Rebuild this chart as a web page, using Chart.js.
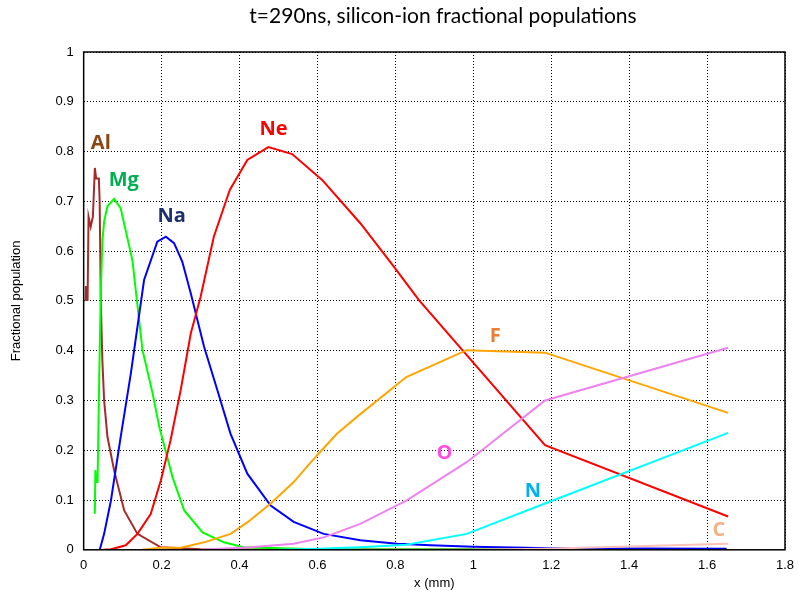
<!DOCTYPE html>
<html>
<head>
<meta charset="utf-8">
<script src="https://cdn.jsdelivr.net/npm/chart.js@4.4.0/dist/chart.umd.min.js"></script>
<style>
html,body{margin:0;padding:0;background:#fff;}
#wrap{position:relative;width:798px;height:603px;}
</style>
</head>
<body>
<div id="wrap"><canvas id="c" width="798" height="603"></canvas></div>
<script>
// ---- data (x in mm, fractional population) ----
const alData = [[0.005,0.50],[0.006,0.53],[0.010,0.50],[0.0125,0.669],[0.018,0.649],[0.0236,0.669],[0.0287,0.767],[0.032,0.746],[0.039,0.746],[0.041,0.70],[0.044,0.50],[0.048,0.38],[0.0525,0.30],[0.061,0.227],[0.078,0.16],[0.104,0.079],[0.138,0.032],[0.198,0.005],[0.3,0.001],[1.65,0.0]];
const mgData = [[0.0287,0.0725],[0.0300,0.16],[0.0313,0.16],[0.0320,0.136],[0.0356,0.136],[0.040,0.35],[0.044,0.52],[0.048,0.62],[0.0526,0.66],[0.061,0.69],[0.078,0.705],[0.095,0.686],[0.125,0.582],[0.151,0.401],[0.177,0.314],[0.194,0.247],[0.228,0.146],[0.258,0.079],[0.305,0.035],[0.36,0.015],[0.41,0.005],[0.6,0.001],[1.65,0.0]];
const naData = [[0.040,0.0],[0.042,0.002],[0.0525,0.032],[0.07,0.099],[0.095,0.227],[0.121,0.354],[0.155,0.542],[0.189,0.619],[0.211,0.629],[0.232,0.616],[0.253,0.579],[0.275,0.515],[0.309,0.408],[0.343,0.321],[0.377,0.233],[0.42,0.153],[0.48,0.089],[0.539,0.056],[0.616,0.032],[0.71,0.019],[0.804,0.012],[0.89,0.009],[1.0,0.006],[1.2,0.003],[1.65,0.002]];
const neData = [[0.05,0.0],[0.07,0.001],[0.108,0.009],[0.138,0.032],[0.172,0.072],[0.198,0.139],[0.223,0.22],[0.249,0.321],[0.275,0.435],[0.3,0.508],[0.334,0.629],[0.375,0.723],[0.42,0.783],[0.474,0.809],[0.535,0.795],[0.612,0.743],[0.71,0.656],[0.796,0.569],[0.86,0.502],[1.184,0.21],[1.654,0.067]];
const fData = [[0.15,0.0],[0.198,0.004],[0.25,0.004],[0.309,0.015],[0.377,0.032],[0.42,0.055],[0.48,0.093],[0.539,0.136],[0.599,0.19],[0.65,0.233],[0.706,0.27],[0.828,0.347],[0.983,0.401],[1.184,0.396],[1.654,0.275]];
const oData = [[0.3,0.0],[0.428,0.005],[0.539,0.012],[0.616,0.025],[0.71,0.052],[0.828,0.099],[0.983,0.176],[1.184,0.3],[1.654,0.406]];
const nData = [[0.5,0.0],[0.6,0.002],[0.71,0.005],[0.828,0.01],[0.983,0.032],[1.184,0.093],[1.654,0.235]];
const cData = [[1.0,0.0],[1.184,0.002],[1.654,0.012]];

const seriesNames = ['Al','Mg','Na','Ne','F','O','N','C'];
const labelX = [0.044,0.103,0.226,0.487,1.056,0.926,1.153,1.630];
const labelY = [0.817,0.743,0.669,0.844,0.429,0.194,0.117,0.039];

const xTicks = ['0','0.2','0.4','0.6','0.8','1','1.2','1.4','1.6','1.8'];
const yTicks = ['0','0.1','0.2','0.3','0.4','0.5','0.6','0.7','0.8','0.9','1'];
const titleText = 't=290ns, silicon-ion fractional populations';

// ---- styles ----
const lineColors = ['#A52A2A','#00FF00','#0000FF','#FF0000','#FFA500','#EE82EE','#00FFFF','#FFC0B8'];
const labelColors = ['#8B4513','#00B050','#1F2F6F','#FF0000','#ED7D31','#FF4FE0','#00B0F0','#F4B183'];

const allData = [alData,mgData,naData,neData,fData,oData,nData,cData];
const drawOrder = [7,6,5,4,3,2,1,0];
const datasets = drawOrder.map(i => ({
  label: seriesNames[i],
  data: allData[i].map(p => ({x:p[0], y:p[1]})),
  borderColor: lineColors[i],
  backgroundColor: lineColors[i],
  borderWidth: 2,
  pointRadius: 0,
  tension: 0,
  fill: false
}));

const labelPlugin = {
  id: 'labels',
  afterDatasetsDraw(chart) {
    const ctx = chart.ctx, xs = chart.scales.x, ys = chart.scales.y;
    ctx.save();
    ctx.font = 'bold 20px "Open Sans", sans-serif';
    ctx.textAlign = 'center';
    ctx.textBaseline = 'middle';
    seriesNames.forEach((n, i) => {
      ctx.fillStyle = labelColors[i];
      ctx.fillText(n, xs.getPixelForValue(labelX[i]), ys.getPixelForValue(labelY[i]));
    });
    ctx.restore();
  }
};

const framePlugin = {
  id: 'frame',
  afterDraw(chart) {
    const {left, right, top, bottom} = chart.chartArea;
    const ctx = chart.ctx;
    ctx.save();
    ctx.strokeStyle = '#000';
    ctx.lineWidth = 1.5;
    ctx.strokeRect(left, top, right - left, bottom - top);
    ctx.fillStyle = '#000';
    ctx.font = '21px Lato, "Open Sans", sans-serif';
    ctx.textAlign = 'center';
    ctx.textBaseline = 'middle';
    ctx.fillText(titleText, 443, 16);
    ctx.restore();
  }
};

new Chart(document.getElementById('c'), {
  type: 'line',
  data: { datasets },
  plugins: [labelPlugin, framePlugin],
  options: {
    responsive: false,
    animation: false,
    layout: { padding: { top: 52, right: 13, left: 9, bottom: 8 } },
    plugins: {
      legend: { display: false },
      tooltip: { enabled: false },
      title: { display: false }
    },
    scales: {
      x: {
        type: 'linear',
        min: 0, max: 1.8,
        afterBuildTicks: s => { s.ticks = xTicks.map(t => ({value: parseFloat(t)})); },
        afterFit: s => { s.paddingRight = 0; },
        ticks: {
          callback: (v, i) => xTicks[i],
          color: '#000',
          font: { family: '"Liberation Sans", Arial, sans-serif', size: 13 },
          padding: 8,
          maxRotation: 0
        },
        grid: { color: '#000', lineWidth: 1, drawTicks: false },
        border: { display: false, dash: [1, 2] },
        title: { display: true, text: 'x (mm)', color: '#000', font: { family: '"Liberation Sans", Arial, sans-serif', size: 13 }, padding: { top: -6, bottom: 4 } }
      },
      y: {
        type: 'linear',
        min: 0, max: 1,
        afterBuildTicks: s => { s.ticks = yTicks.map(t => ({value: parseFloat(t)})); },
        ticks: {
          callback: (v, i) => yTicks[i],
          color: '#000',
          font: { family: '"Liberation Sans", Arial, sans-serif', size: 13 },
          padding: 10
        },
        grid: { color: '#000', lineWidth: 1, drawTicks: false },
        border: { display: false, dash: [1, 2] },
        title: { display: true, text: 'Fractional population', color: '#000', font: { family: '"Liberation Sans", Arial, sans-serif', size: 13 }, padding: { top: 0, bottom: 21 } }
      }
    }
  }
});
</script>
</body>
</html>
